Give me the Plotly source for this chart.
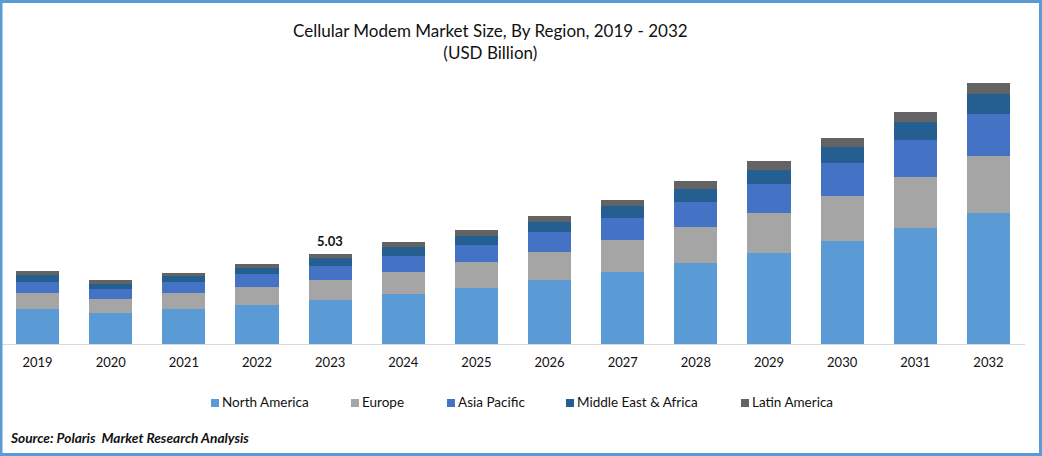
import plotly.graph_objects as go

# values (USD Billion)
years = ['2019', '2020', '2021', '2022', '2023', '2024', '2025', '2026', '2027', '2028', '2029', '2030', '2031', '2032']
north_america = [1.96, 1.73, 1.96, 2.18, 2.46, 2.79, 3.13, 3.58, 4.02, 4.53, 5.08, 5.75, 6.48, 7.32]
europe = [0.89, 0.78, 0.89, 1.01, 1.12, 1.23, 1.45, 1.56, 1.79, 2.01, 2.23, 2.51, 2.85, 3.18]
asia_pacific = [0.61, 0.56, 0.61, 0.73, 0.78, 0.89, 0.95, 1.12, 1.23, 1.40, 1.62, 1.84, 2.07, 2.35]
middle_east_africa = [0.39, 0.28, 0.34, 0.34, 0.45, 0.50, 0.50, 0.56, 0.67, 0.73, 0.78, 0.89, 1.01, 1.12]
latin_america = [0.22, 0.22, 0.17, 0.22, 0.22, 0.28, 0.34, 0.34, 0.34, 0.45, 0.50, 0.50, 0.56, 0.61]

W, H = 1042, 456
FONT = 'Lato'
BORDER = '#5B9BD5'

# plot area in pixels of the picture
LEFT, RIGHT, TOP, BASE = 1, 1025, 70, 344


def px(x):
    return (x - LEFT) / (RIGHT - LEFT)


def py(y):
    return (BASE - y) / (BASE - TOP)


fig = go.Figure()

series = [
    ('North America', north_america, '#5B9BD5'),
    ('Europe', europe, '#A5A5A5'),
    ('Asia Pacific', asia_pacific, '#4472C4'),
    ('Middle East & Africa', middle_east_africa, '#255E91'),
    ('Latin America', latin_america, '#636363'),
]
for name, values, color in series:
    fig.add_trace(go.Bar(x=years, y=values, name=name, marker=dict(color=color, line=dict(width=0))))

# 2023 is the only labelled total (category axis wants the index here, not '2023')
idx = years.index('2023')
total_2023 = sum(s[1][idx] for s in series)
fig.add_annotation(x=idx, y=total_2023, text='<b>%.2f</b>' % total_2023, showarrow=False,
                   yanchor='bottom', yshift=3, font=dict(family=FONT, size=13, color='#111111'))

fig.add_annotation(xref='paper', yref='paper', x=px(490), y=py(42), yanchor='middle',
                   text='Cellular Modem Market Size, By Region, 2019 - 2032<br>(USD Billion)',
                   showarrow=False, align='center', font=dict(family=FONT, size=17, color='#111111'))
fig.add_annotation(xref='paper', yref='paper', x=px(8), y=py(437), yanchor='middle',
                   text='<b><i>Source: Polaris  Market Research Analysis</i></b>',
                   showarrow=False, xanchor='left', font=dict(family=FONT, size=13.7, color='#111111'))

# legend drawn by hand: the native one can't keep these tight swatch gaps
legend_x = [211, 351, 447, 566, 741]
for (name, values, color), lx in zip(series, legend_x):
    fig.add_shape(type='rect', xref='paper', yref='paper', x0=px(lx), x1=px(lx + 8), y0=py(407), y1=py(399),
                  fillcolor=color, line=dict(width=0))
    fig.add_annotation(xref='paper', yref='paper', x=px(lx + 9), y=py(402), text=name, xanchor='left', yanchor='middle',
                       showarrow=False, font=dict(family=FONT, size=13.5, color='#111111'))

# outer blue frame of the image
fig.add_shape(type='rect', xref='paper', yref='paper', x0=px(1), x1=px(1040.5),
              y0=py(454.5), y1=py(1.5), line=dict(color=BORDER, width=3), layer='above')

fig.update_layout(
    width=W, height=H,
    barmode='stack', bargap=0.41, showlegend=False,
    margin=dict(l=LEFT, r=W - RIGHT, t=TOP, b=H - BASE, autoexpand=False),
    paper_bgcolor='white', plot_bgcolor='white',
    font=dict(family=FONT, size=13, color='#111111'),
    xaxis=dict(type='category', range=[-0.5, 13.5], showgrid=False, showline=True, linecolor='#D9D9D9', linewidth=1,
               ticks='outside', ticklen=6, tickcolor='rgba(255,255,255,0)', tickfont=dict(size=13)),
    yaxis=dict(visible=False, range=[0, (BASE - TOP) / 17.9]),
)

fig.write_html("out.html", config=dict(displayModeBar=False), post_script="document.body.style.margin='0';")
